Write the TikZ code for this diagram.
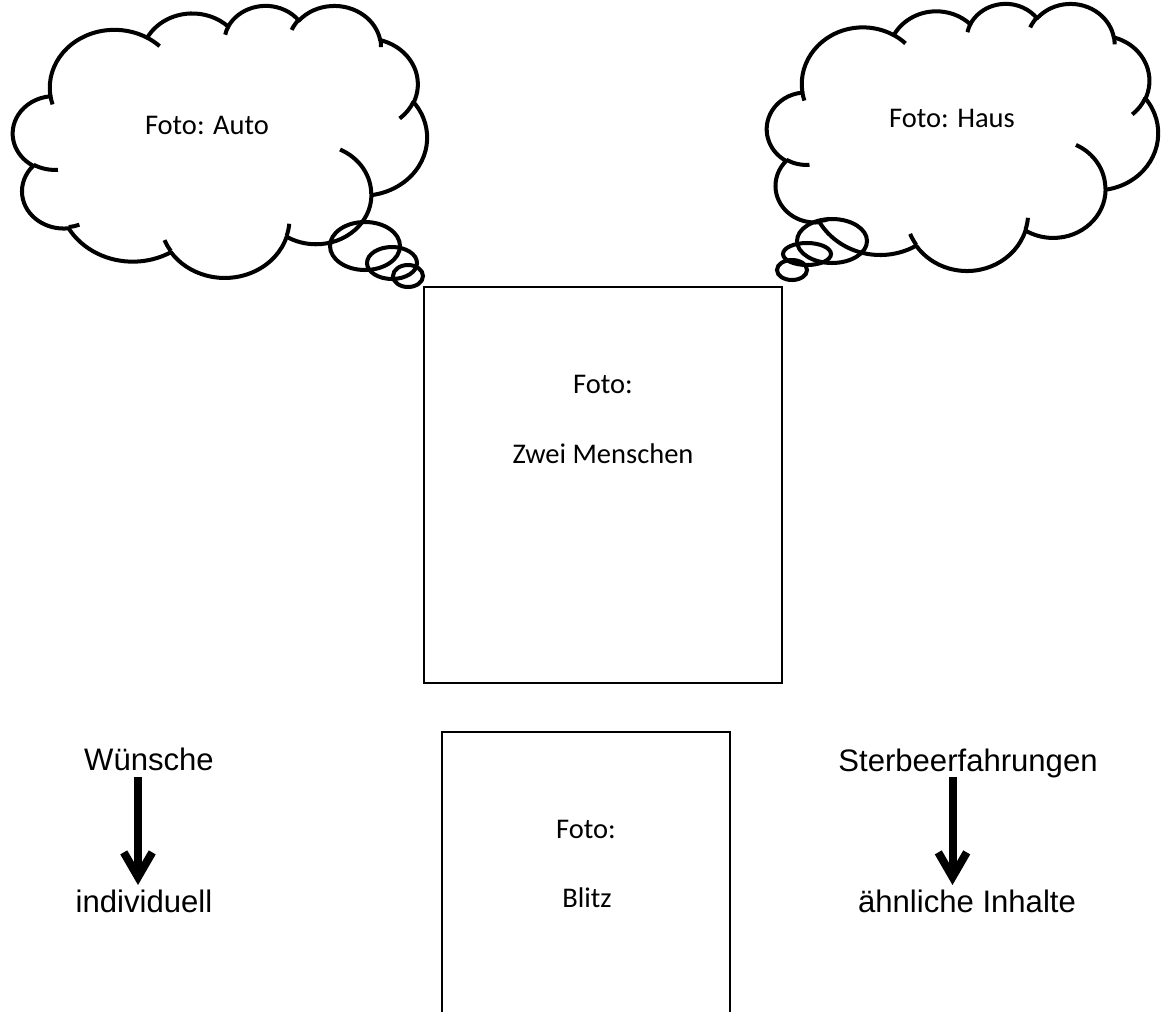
\documentclass[tikz,border=0pt]{standalone}
\usepackage{fontspec}
\setmainfont{Carlito}
\newfontfamily\arialfont{Liberation Sans}
\usetikzlibrary{arrows.meta}

% Office-style arcTo: wR, hR, start angle, sweep angle (visual angles)
\newcommand\ooArc[4]{%
  \pgfmathsetmacro\ooTs{atan2((#1)*sin(#3),(#2)*cos(#3))}%
  \pgfmathsetmacro\ooTe{atan2((#1)*sin((#3)+(#4)),(#2)*cos((#3)+(#4)))}%
  \pgfmathsetmacro\ooD{mod(mod((\ooTe)-(\ooTs),360)+360,360)}%
  \xdef\ooPath{\ooPath arc[start angle=\ooTs, delta angle=\ooD, x radius=#1, y radius=#2]}%
}
\newcommand\ooMove[2]{\xdef\ooPath{\ooPath (#1,#2)}}

\def\ooPath{(3.900,14.370)}
\ooArc{6.753}{9.190}{-190.4875}{123.7805}
\ooArc{5.333}{7.267}{-144.1024}{89.9452}
\ooArc{4.365}{5.945}{-145.8079}{99.7230}
\ooArc{4.857}{6.595}{-130.9861}{117.2417}
\ooArc{5.333}{7.273}{-78.7089}{109.0269}
\ooArc{6.775}{9.220}{-46.2673}{130.2690}
\ooArc{5.785}{7.867}{0.6250}{114.0333}
\ooArc{6.752}{9.215}{22.4516}{115.1726}
\ooArc{7.720}{10.543}{66.2426}{75.7110}
\ooArc{4.360}{5.918}{-274.9421}{146.7356}
\ooArc{4.345}{5.945}{-246.8285}{152.5189}
\let\cloudOutline\ooPath

\def\ooPath{}
\ooMove{4.693}{26.177}\ooArc{4.345}{5.945}{86.7420}{26.4295}
\ooMove{6.928}{34.899}\ooArc{4.360}{5.918}{73.6105}{11.4475}
\ooMove{16.478}{39.090}\ooArc{6.752}{9.215}{137.6242}{14.0811}
\ooMove{28.827}{34.751}\ooArc{6.752}{9.215}{6.4533}{15.9984}
\ooMove{34.129}{22.954}\ooArc{5.785}{7.867}{-70.2924}{70.9174}
\ooMove{41.798}{15.354}\ooArc{5.333}{7.273}{30.3180}{27.7515}
\ooMove{38.324}{5.426}\ooArc{4.857}{6.595}{-13.7443}{14.8547}
\ooMove{29.078}{3.952}\ooArc{4.857}{6.595}{-149.1815}{18.1954}
\ooMove{22.141}{4.720}\ooArc{4.365}{5.945}{-163.4943}{17.6864}
\ooMove{14.000}{5.192}\ooArc{6.753}{9.190}{-66.7070}{12.3194}
\ooMove{4.127}{15.789}\ooArc{6.753}{9.190}{157.6544}{11.8582}
\let\cloudInner\ooPath

\tikzset{
  cloudline/.style={line width=1.55pt, line join=round},
  bubble/.style={line width=1.55pt},
  boxline/.style={line width=0.55pt},
  cal/.style={font=\fontsize{11}{13}\selectfont, inner sep=0pt, anchor=base},
  ari/.style={font=\arialfont\fontsize{12}{14}\selectfont, inner sep=0pt, anchor=base},
  bigarrow/.style={line width=3.1pt, -{Straight Barb[length=9.5pt, width=11pt]}}
}

\begin{document}
\begin{tikzpicture}[x=0.386pt, y=-0.386pt]
\useasboundingbox (0,0) rectangle (1165,1011);

% left cloud
\begin{scope}[shift={(13,5)}, x=3.699pt, y=-2.430pt]
  \draw[cloudline] \cloudOutline -- cycle;
  \draw[cloudline] \cloudInner;
\end{scope}
\draw[bubble] (365,246) ellipse [x radius=35, y radius=24];
\draw[bubble] (392,263) ellipse [x radius=25, y radius=16];
\draw[bubble] (408,276) ellipse [x radius=15, y radius=11];
\node[cal] (auto) at (207,134) {Foto: Auto};

% right cloud
\begin{scope}[shift={(767,3)}, x=3.494pt, y=-2.386pt]
  \draw[cloudline] \cloudOutline -- cycle;
  \draw[cloudline] \cloudInner;
\end{scope}
\draw[bubble] (832,241) ellipse [x radius=35, y radius=22];
\draw[bubble] (807,254) ellipse [x radius=24, y radius=11];
\draw[bubble] (792,270) ellipse [x radius=15, y radius=10];
\node[cal] (haus) at (952,127) {Foto: Haus};

% main box
\draw[boxline] (424,287) rectangle (782,683);
\node[cal] (m1) at (603,393) {Foto:};
\node[cal] (m2) at (603,463) {Zwei Menschen};

% lower box (open at the bottom)
\draw[boxline] (442,1020) -- (442,732) -- (730,732) -- (730,1020);
\node[cal] (b1) at (586,838) {Foto:};
\node[cal] (b2) at (587,907) {Blitz};

% left column
\node[ari] (w) at (149,770) {Wünsche};
\node[ari] (ind) at (144,912) {individuell};
\coordinate (a1s) at (138,777);
\coordinate (a1e) at (138,885);
\draw[bigarrow] (a1s) -- (a1e);

% right column
\node[ari] (st) at (968,771) {Sterbeerfahrungen};
\node[ari] (ahn) at (967,912) {ähnliche Inhalte};
\coordinate (a2s) at (952.5,777);
\coordinate (a2e) at (952.5,885);
\draw[bigarrow] (a2s) -- (a2e);
\end{tikzpicture}
\end{document}
